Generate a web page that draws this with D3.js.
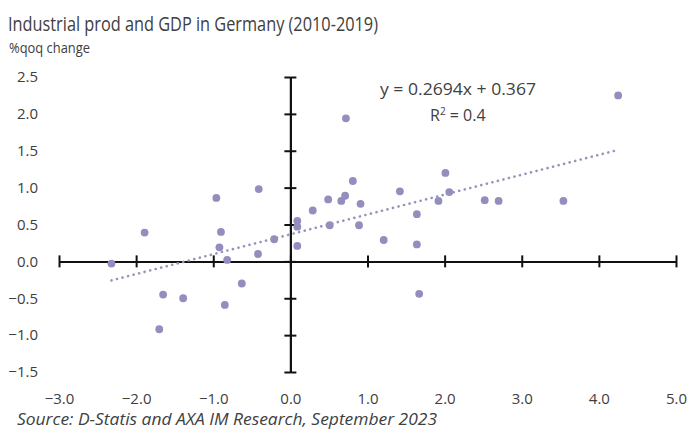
<!DOCTYPE html>
<html>
<head>
<meta charset="utf-8">
<script src="https://cdn.jsdelivr.net/npm/d3@7/dist/d3.min.js"></script>
<style>
  html, body { margin: 0; padding: 0; background: #fff; }
  svg { display: block; }
  text { font-family: "Open Sans", "Noto Sans", sans-serif; fill: #404040; }
</style>
</head>
<body>
<svg id="chart" width="689" height="430"></svg>
<script>
// Quarterly % changes, Germany 2010-2019: industrial production (x) vs GDP (y)
const ipChange = [-2.32, -1.89, -1.65, -1.70, -1.39, -0.96, -0.90, -0.92, -0.82, -0.85,
  -0.63, -0.41, -0.42, -0.21, 0.09, 0.09, 0.09, 0.29, 0.49, 0.51,
  0.66, 0.71, 0.72, 0.81, 0.91, 0.89, 1.21, 1.42, 1.64, 1.64,
  1.67, 1.92, 2.01, 2.06, 2.52, 2.70, 3.54, 4.25];
const gdpChange = [-0.03, 0.39, -0.45, -0.92, -0.50, 0.86, 0.40, 0.19, 0.02, -0.59,
  -0.30, 0.98, 0.10, 0.30, 0.55, 0.47, 0.21, 0.69, 0.84, 0.49,
  0.82, 0.89, 1.94, 1.09, 0.78, 0.49, 0.29, 0.95, 0.64, 0.23,
  -0.44, 0.82, 1.20, 0.94, 0.83, 0.82, 0.82, 2.25];

// Linear trend fitted to the series
const trendSlope = 0.2694;
const trendIntercept = 0.367;
const rSquared = 0.4;

const xTicks = [-3, -2, -1, 0, 1, 2, 3, 4, 5];
const yTicks = [-1.5, -1, -0.5, 0, 0.5, 1, 1.5, 2, 2.5];

const titleText = "Industrial prod and GDP in Germany (2010-2019)";
const unitText = "%qoq change";
const sourceText = "Source: D-Statis and AXA IM Research, September 2023";

const svg = d3.select("#chart");
const x = d3.scaleLinear().domain([-3, 5]).range([59, 676]);
const y = d3.scaleLinear().domain([-1.5, 2.5]).range([372, 77]);
const fmt = d3.format(".1f");
const axisColor = "#111";

// Narrow text blocks: fit each to its set width
function fitText(sel, len) {
  sel.attr("textLength", len).attr("lengthAdjust", "spacingAndGlyphs");
  return sel;
}

// Title and unit
fitText(svg.append("text").attr("x", 8).attr("y", 31)
  .style("font-size", "20px").text(titleText), 370);
fitText(svg.append("text").attr("x", 9).attr("y", 53)
  .style("font-size", "15px").text(unitText), 81);

// Crossing axes: ticks extend on both sides of each axis line
function styleAxis(g) {
  g.selectAll("path, line").attr("stroke", axisColor).attr("stroke-width", 2);
  g.selectAll("text").remove();
}
const xAxisG = svg.append("g").attr("transform", `translate(0,${y(0)})`);
xAxisG.append("g").call(d3.axisBottom(x).tickValues(xTicks).tickSize(6).tickSizeOuter(0)).call(styleAxis);
xAxisG.append("g").call(d3.axisTop(x).tickValues(xTicks).tickSize(6).tickSizeOuter(0)).call(styleAxis);
const yAxisG = svg.append("g").attr("transform", `translate(${x(0)},0)`);
yAxisG.append("g").call(d3.axisLeft(y).tickValues(yTicks).tickSize(6).tickSizeOuter(0)).call(styleAxis);
yAxisG.append("g").call(d3.axisRight(y).tickValues(yTicks).tickSize(6).tickSizeOuter(0)).call(styleAxis);

// Tick labels along the bottom and left edges
const xLabels = svg.append("g").attr("transform", "translate(0,390)")
  .call(d3.axisBottom(x).tickValues(xTicks).tickFormat(fmt).tickSize(0));
xLabels.select(".domain").remove();
xLabels.selectAll("text").attr("fill", "#404040").attr("dy", "0.71em")
  .style("font-size", "15px").style("font-family", "\"Open Sans\", sans-serif");

const yLabels = svg.append("g").attr("transform", "translate(38,0)")
  .call(d3.axisLeft(y).tickValues(yTicks).tickFormat(fmt).tickSize(0));
yLabels.select(".domain").remove();
yLabels.selectAll("text").attr("fill", "#404040").attr("x", 0)
  .style("font-size", "15px").style("font-family", "\"Open Sans\", sans-serif");

// Points
const pts = ipChange.map((v, i) => ({ ip: v, gdp: gdpChange[i] }));
svg.append("g").selectAll("circle").data(pts).join("circle")
  .attr("cx", d => x(d.ip)).attr("cy", d => y(d.gdp)).attr("r", 3.9)
  .attr("fill", "#928fbe");

// Dotted trend line over the range of the data
const xExt = d3.extent(ipChange);
svg.append("line")
  .attr("x1", x(xExt[0])).attr("y1", y(trendSlope * xExt[0] + trendIntercept))
  .attr("x2", x(xExt[1])).attr("y2", y(trendSlope * xExt[1] + trendIntercept))
  .attr("stroke", "#9794b8").attr("stroke-width", 2.6)
  .attr("stroke-linecap", "round").attr("stroke-dasharray", "0.1 5.6");

// Trend equation
fitText(svg.append("text").attr("x", 380).attr("y", 95)
  .style("font-size", "16px")
  .text(`y = ${trendSlope}x + ${trendIntercept}`), 156);
const r2 = svg.append("text").attr("x", 430).attr("y", 121)
  .style("font-size", "16px");
r2.append("tspan").text("R");
r2.append("tspan").attr("dy", -6).style("font-size", "10px").text("2");
r2.append("tspan").attr("dy", 6).text(` = ${rSquared}`);

// Source note
fitText(svg.append("text").attr("x", 17).attr("y", 425)
  .style("font-size", "17px").style("font-style", "italic").text(sourceText), 420);
</script>
</body>
</html>
